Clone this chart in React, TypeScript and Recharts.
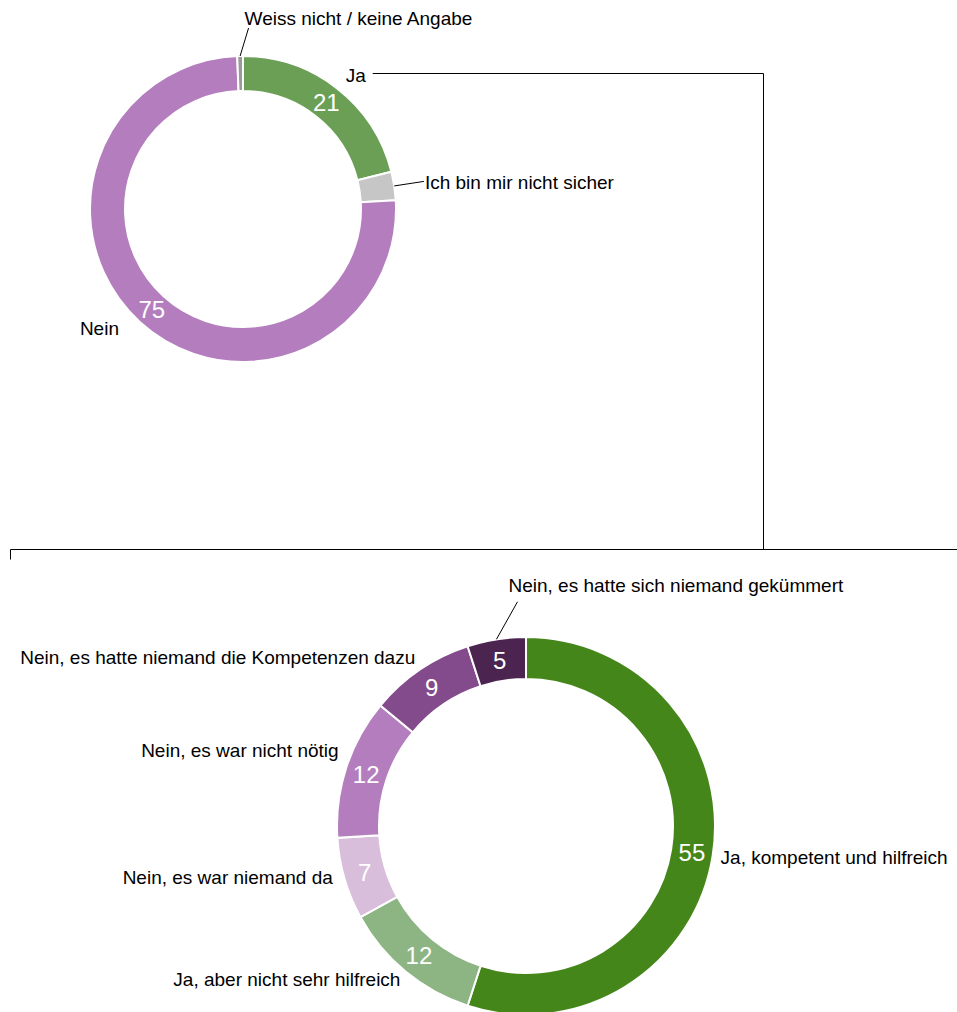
import { PieChart, Pie, Cell } from "recharts";

// Erste Frage: Hilfe erhalten?
const topNames = ["Ja", "Ich bin mir nicht sicher", "Nein", "Weiss nicht / keine Angabe"];
const topValues = [21, 3, 75, 0.6];
const topColors = ["#6a9f55", "#c6c6c6", "#b47ebe", "#9a9a9a"];

// Folgefrage (nur "Ja")
const bottomNames = [
  "Ja, kompetent und hilfreich",
  "Ja, aber nicht sehr hilfreich",
  "Nein, es war niemand da",
  "Nein, es war nicht nötig",
  "Nein, es hatte niemand die Kompetenzen dazu",
  "Nein, es hatte sich niemand gekümmert",
];
const bottomValues = [55, 12, 7, 12, 9, 5];
const bottomColors = ["#45861a", "#8db584", "#d9bedc", "#b47ebe", "#834a8c", "#4b2450"];

const topData = topNames.map((name, i) => ({ name, value: topValues[i] }));
const bottomData = bottomNames.map((name, i) => ({ name, value: bottomValues[i] }));

const FONT = "'Liberation Sans', Arial, Helvetica, sans-serif";
const RADIAN = Math.PI / 180;

// label placement per slice: r = extra radius, dx/dy shift, tx/ty text shift from leader end
type LabelCfg = { r: number; dx: number; dy: number; tx?: number; ty?: number; anchor: "start" | "end"; leader?: boolean; connector?: boolean };

const topLabelCfg: LabelCfg[] = [
  { r: 14, dx: 0, dy: -2, anchor: "start", connector: true },
  { r: 30, dx: 0, dy: 0, tx: 1, ty: 1, anchor: "start", leader: true },
  { r: 12, dx: -13, dy: -3, anchor: "end" },
  { r: 28, dx: 9, dy: 0, tx: -4, ty: -10, anchor: "start", leader: true },
];

const bottomLabelCfg: LabelCfg[] = [
  { r: 8, dx: 0, dy: 1, anchor: "start" },
  { r: 8, dx: 0, dy: 2, anchor: "end" },
  { r: 8, dx: -4, dy: -3, anchor: "end" },
  { r: 8, dx: 0, dy: -15, anchor: "end" },
  { r: 8, dx: 0, dy: -6, anchor: "end" },
  { r: 38, dx: 27, dy: 0, tx: -9, ty: -16, anchor: "start", leader: true },
];

// bridge between the two rings
const BRIDGE_X = 763.5;
const BRIDGE_Y = 549.5;
const BRIDGE_LEFT = 10.5;
const BRIDGE_RIGHT = 957;

function polar(cx: number, cy: number, r: number, angle: number) {
  return [cx + r * Math.cos(-angle * RADIAN), cy + r * Math.sin(-angle * RADIAN)];
}

function makeLabel(cfgs: LabelCfg[]) {
  return (props: any) => {
    const { cx, cy, midAngle, innerRadius, outerRadius, index, value, name } = props;
    const cfg = cfgs[index];
    const [vx, vy] = polar(cx, cy, (innerRadius + outerRadius) / 2, midAngle);
    const [ox, oy] = polar(cx, cy, outerRadius, midAngle);
    const [px, py] = polar(cx, cy, outerRadius + cfg.r, midAngle);
    const lx = px + cfg.dx;
    const ly = py + cfg.dy;
    const txt = cfg.leader ? [lx + (cfg.tx || 0), ly + (cfg.ty || 0)] : [lx, ly];
    const lineY = Math.round(ly - 2) + 0.5;
    return (
      <g>
        {value >= 5 && (
          <text x={vx} y={vy} fill="#fff" fontSize={24} fontFamily={FONT} textAnchor="middle" dominantBaseline="central">
            {value}
          </text>
        )}
        {cfg.leader && <line x1={ox} y1={oy} x2={lx} y2={ly} stroke="#000" strokeWidth={1} />}
        <text x={txt[0]} y={txt[1]} fill="#000" fontSize={19} fontFamily={FONT} textAnchor={cfg.anchor} dominantBaseline="central">
          {name}
        </text>
        {cfg.connector && (
          <g fill="none" stroke="#000" strokeWidth={1}>
            <polyline points={`${lx + 27},${lineY} ${BRIDGE_X},${lineY} ${BRIDGE_X},${BRIDGE_Y}`} />
            <polyline points={`${BRIDGE_LEFT},${BRIDGE_Y + 10} ${BRIDGE_LEFT},${BRIDGE_Y} ${BRIDGE_RIGHT},${BRIDGE_Y}`} />
          </g>
        )}
      </g>
    );
  };
}

export default function App() {
  return (
    <div style={{ position: "absolute", left: 0, top: 0, width: 957, height: 1012, background: "#fff" }}>
      <PieChart width={957} height={1012} margin={{ top: 0, right: 0, bottom: 0, left: 0 }}>
        <Pie
          data={topData}
          dataKey="value"
          nameKey="name"
          cx={243}
          cy={209}
          innerRadius={118}
          outerRadius={153}
          startAngle={90}
          endAngle={-270}
          stroke="#fff"
          strokeWidth={2}
          labelLine={false}
          label={makeLabel(topLabelCfg)}
          isAnimationActive={false}
        >
          {topData.map((d, i) => (
            <Cell key={d.name} fill={topColors[i]} />
          ))}
        </Pie>
        <Pie
          data={bottomData}
          dataKey="value"
          nameKey="name"
          cx={526}
          cy={826}
          innerRadius={147}
          outerRadius={189}
          startAngle={90}
          endAngle={-270}
          stroke="#fff"
          strokeWidth={2}
          labelLine={false}
          label={makeLabel(bottomLabelCfg)}
          isAnimationActive={false}
        >
          {bottomData.map((d, i) => (
            <Cell key={d.name} fill={bottomColors[i]} />
          ))}
        </Pie>
      </PieChart>
    </div>
  );
}
